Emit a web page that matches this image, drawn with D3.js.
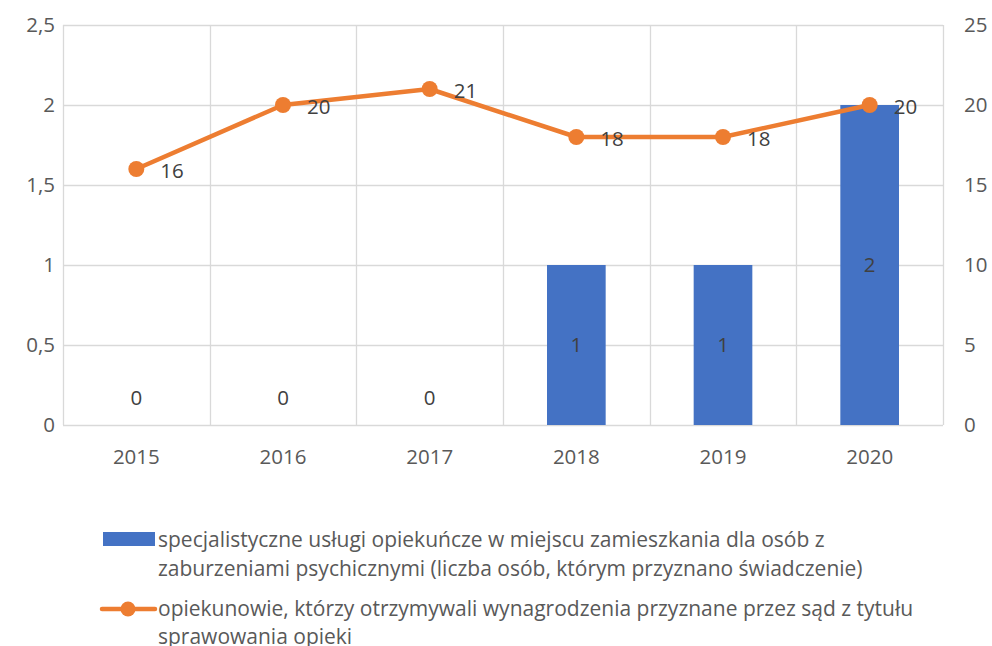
<!DOCTYPE html>
<html>
<head>
<meta charset="utf-8">
<script src="https://cdn.jsdelivr.net/npm/d3@7"></script>
<style>
  html, body { margin: 0; padding: 0; background: #fff; }
  svg { display: block; font-family: "Open Sans", "Noto Sans", sans-serif; }
</style>
</head>
<body>
<svg id="chart" width="992" height="646"></svg>
<script>
// Years shown on the category axis
const years = ["2015", "2016", "2017", "2018", "2019", "2020"];
// Specialist care services (persons) – bars, left axis
const careServices = [0, 0, 0, 1, 1, 2];
// Guardians receiving court-awarded remuneration – line, right axis
const guardians = [16, 20, 21, 18, 18, 20];
// Axis tick values
const leftTicks = [0, 0.5, 1, 1.5, 2, 2.5];
const rightTicks = [0, 5, 10, 15, 20, 25];
// Legend entries
const barLegend = ["specjalistyczne usługi opiekuńcze w miejscu zamieszkania dla osób z",
                   "zaburzeniami psychicznymi (liczba osób, którym przyznano świadczenie)"];
const lineLegend = ["opiekunowie, którzy otrzymywali wynagrodzenia przyznane przez sąd z tytułu",
                    "sprawowania opieki"];

const BLUE = "#4472C4", ORANGE = "#ED7D31", GRID = "#d9d9d9", TEXT = "#595959";
const FS = 20.5, LFS = 21;
const svg = d3.select("#chart");
const plot = { left: 63, right: 943, top: 25, bottom: 425 };

const x = d3.scaleBand().domain(years).range([plot.left, plot.right]).paddingInner(0).paddingOuter(0);
const yL = d3.scaleLinear().domain([0, 2.5]).range([plot.bottom, plot.top]);
const yR = d3.scaleLinear().domain([0, 25]).range([plot.bottom, plot.top]);
const fmt = v => String(v).replace(".", ",");

// Horizontal gridlines
svg.append("g").selectAll("line").data(leftTicks).join("line")
  .attr("x1", plot.left).attr("x2", plot.right)
  .attr("y1", d => Math.round(yL(d)) + 0.5).attr("y2", d => Math.round(yL(d)) + 0.5)
  .attr("stroke", GRID).attr("stroke-width", 1.3);

// Vertical gridlines at category boundaries
const bounds = years.map(y => x(y)).concat([plot.right]);
svg.append("g").selectAll("line").data(bounds).join("line")
  .attr("x1", d => Math.round(d) + 0.5).attr("x2", d => Math.round(d) + 0.5)
  .attr("y1", plot.top).attr("y2", plot.bottom)
  .attr("stroke", GRID).attr("stroke-width", 1.3);

// Left axis labels
svg.append("g").selectAll("text").data(leftTicks).join("text")
  .attr("x", 55).attr("y", d => yL(d)).attr("dy", "0.35em")
  .attr("text-anchor", "end").attr("fill", TEXT).attr("font-size", FS)
  .text(fmt);

// Right axis labels
svg.append("g").selectAll("text").data(rightTicks).join("text")
  .attr("x", 964).attr("y", d => yR(d)).attr("dy", "0.35em")
  .attr("text-anchor", "start").attr("fill", TEXT).attr("font-size", FS)
  .text(d => d);

// Category labels
svg.append("g").selectAll("text").data(years).join("text")
  .attr("x", d => x(d) + x.bandwidth() / 2).attr("y", 457)
  .attr("dy", "0.35em")
  .attr("text-anchor", "middle").attr("fill", TEXT).attr("font-size", FS)
  .text(d => d);

// Bars
const barW = x.bandwidth() * 0.4;
const barData = years.map((yr, i) => ({ yr, v: careServices[i] }));
svg.append("g").selectAll("rect").data(barData).join("rect")
  .attr("x", d => x(d.yr) + (x.bandwidth() - barW) / 2)
  .attr("width", barW)
  .attr("y", d => yL(d.v))
  .attr("height", d => yL(0) - yL(d.v))
  .attr("fill", BLUE);

// Bar value labels (centered in bar)
svg.append("g").selectAll("text").data(barData).join("text")
  .attr("x", d => x(d.yr) + x.bandwidth() / 2)
  .attr("y", d => Math.min((yL(0) + yL(d.v)) / 2, yL(0) - 27))
  .attr("dy", "0.35em")
  .attr("text-anchor", "middle").attr("fill", "#404040").attr("font-size", FS)
  .text(d => d.v);

// Line series
const lineData = years.map((yr, i) => ({ yr, v: guardians[i] }));
const cx = d => x(d.yr) + x.bandwidth() / 2;
svg.append("path").datum(lineData)
  .attr("d", d3.line().x(cx).y(d => yR(d.v)))
  .attr("fill", "none").attr("stroke", ORANGE).attr("stroke-width", 4.5)
  .attr("stroke-linejoin", "round").attr("stroke-linecap", "round");
svg.append("g").selectAll("circle").data(lineData).join("circle")
  .attr("cx", cx).attr("cy", d => yR(d.v)).attr("r", 8)
  .attr("fill", ORANGE);
svg.append("g").selectAll("text").data(lineData).join("text")
  .attr("x", d => cx(d) + 24).attr("y", d => yR(d.v) + 2).attr("dy", "0.35em")
  .attr("fill", "#404040").attr("font-size", FS)
  .text(d => d.v);

// Legend
const lg = svg.append("g");
lg.append("rect").attr("x", 103).attr("y", 532).attr("width", 52).attr("height", 14).attr("fill", BLUE);
lg.selectAll("text.b").data(barLegend).join("text").attr("class", "b")
  .attr("x", 158).attr("y", (d, i) => 540 + i * 29).attr("dy", "0.35em")
  .attr("fill", TEXT).attr("font-size", LFS).text(d => d);
lg.append("line").attr("x1", 102).attr("x2", 155).attr("y1", 609).attr("y2", 609)
  .attr("stroke", ORANGE).attr("stroke-width", 4.5).attr("stroke-linecap", "round");
lg.append("circle").attr("cx", 128).attr("cy", 609).attr("r", 7.5).attr("fill", ORANGE);
lg.selectAll("text.l").data(lineLegend).join("text").attr("class", "l")
  .attr("x", 158).attr("y", (d, i) => 609 + i * 28).attr("dy", "0.35em")
  .attr("fill", TEXT).attr("font-size", LFS).text(d => d);
</script>
</body>
</html>
